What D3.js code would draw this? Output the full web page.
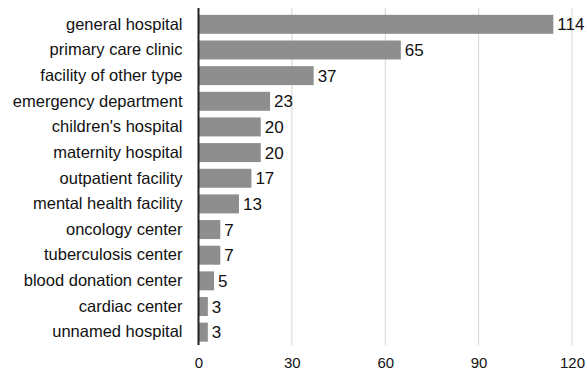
<!DOCTYPE html>
<html>
<head>
<meta charset="utf-8">
<script src="https://cdn.jsdelivr.net/npm/d3@7"></script>
<style>
  html, body { margin: 0; padding: 0; background: #fff; }
  svg { display: block; font-family: "Liberation Sans", Arial, Helvetica, sans-serif; }
</style>
</head>
<body>
<svg id="chart" width="587" height="370"></svg>
<script>
// Facility types and their counts
const categories = [
  "general hospital", "primary care clinic", "facility of other type",
  "emergency department", "children's hospital", "maternity hospital",
  "outpatient facility", "mental health facility", "oncology center",
  "tuberculosis center", "blood donation center", "cardiac center",
  "unnamed hospital"
];
const counts = [114, 65, 37, 23, 20, 20, 17, 13, 7, 7, 5, 3, 3];
const xTicks = [0, 30, 60, 90, 120];

const svg = d3.select("#chart");
const plotTop = 11.5;
const plotBottom = 345;

const x = d3.scaleLinear()
  .domain([0, 120])
  .range([198.5, 572]);

const y = d3.scaleBand()
  .domain(categories)
  .range([plotTop, plotBottom])
  .paddingInner(0.26)
  .paddingOuter(0.13);

// vertical gridlines
svg.append("g")
  .selectAll("line")
  .data(xTicks.filter(d => d > 0))
  .join("line")
  .attr("x1", d => x(d)).attr("x2", d => x(d))
  .attr("y1", 8).attr("y2", 345)
  .attr("stroke", "#d4d4d4")
  .attr("stroke-width", 1);

// bars
svg.append("g")
  .selectAll("rect")
  .data(categories)
  .join("rect")
  .attr("x", x(0))
  .attr("y", d => y(d))
  .attr("width", (d, i) => x(counts[i]) - x(0))
  .attr("height", y.bandwidth())
  .attr("fill", "#8e8e8e");

// value labels
svg.append("g")
  .selectAll("text")
  .data(categories)
  .join("text")
  .attr("x", (d, i) => x(counts[i]) + 4)
  .attr("y", d => y(d) + y.bandwidth() / 2)
  .attr("dy", "0.36em")
  .attr("font-size", 17)
  .attr("fill", "#111")
  .text((d, i) => counts[i]);

// category axis
const yAxis = svg.append("g")
  .attr("transform", `translate(${x(0)},0)`)
  .call(d3.axisLeft(y).tickSize(0).tickPadding(16));
yAxis.select(".domain").remove();
yAxis.selectAll("text")
  .attr("font-size", 16.5)
  .attr("fill", "#111")
  .attr("font-family", "'Liberation Sans', Arial, Helvetica, sans-serif");

// zero baseline
svg.append("line")
  .attr("x1", x(0)).attr("x2", x(0))
  .attr("y1", 8).attr("y2", 345)
  .attr("stroke", "#222")
  .attr("stroke-width", 2);

// value axis
const xAxis = svg.append("g")
  .attr("transform", "translate(0,344)")
  .call(d3.axisBottom(x).tickValues(xTicks).tickSize(0).tickPadding(13));
xAxis.select(".domain").remove();
xAxis.selectAll("text")
  .attr("font-size", 15)
  .attr("fill", "#111")
  .attr("font-family", "'Liberation Sans', Arial, Helvetica, sans-serif");
</script>
</body>
</html>
